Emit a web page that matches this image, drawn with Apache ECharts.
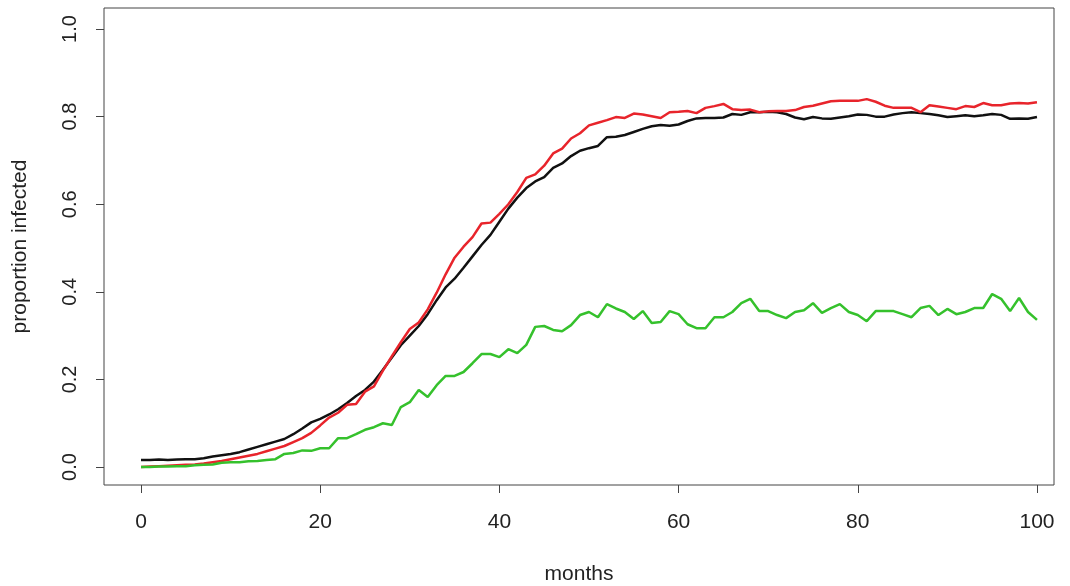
<!DOCTYPE html>
<html>
<head>
<meta charset="utf-8">
<script src="https://cdn.jsdelivr.net/npm/echarts@6/dist/echarts.min.js"></script>
<style>
    html, body { margin: 0; padding: 0; background: #fff; }
    #chart { width: 1070px; height: 586px; }
</style>
</head>
<body>
<div id="chart"></div>
<script>
    // months 0..100
    const months = Array.from({ length: 101 }, (_, i) => i);

    const xTicks = [0, 20, 40, 60, 80, 100];
    const yTicks = [0, 0.2, 0.4, 0.6, 0.8, 1.0];

    // black line
    const blackVals = [
        0.016, 0.016, 0.017, 0.016, 0.017, 0.018, 0.018, 0.020, 0.024, 0.027,
        0.030, 0.034, 0.040, 0.046, 0.052, 0.058, 0.064, 0.075, 0.088, 0.102,
        0.110, 0.120, 0.132, 0.146, 0.162, 0.176, 0.195, 0.222, 0.250, 0.278,
        0.300, 0.322, 0.349, 0.381, 0.410, 0.430, 0.455, 0.481, 0.507, 0.530,
        0.560, 0.590, 0.615, 0.637, 0.652, 0.662, 0.683, 0.693, 0.710, 0.722,
        0.728, 0.733, 0.753, 0.754, 0.758, 0.765, 0.772, 0.778, 0.781, 0.779,
        0.782, 0.790, 0.796, 0.797, 0.797, 0.798, 0.806, 0.804, 0.810, 0.810,
        0.811, 0.810, 0.806, 0.798, 0.794, 0.799, 0.796, 0.795, 0.798, 0.801,
        0.805, 0.804, 0.800, 0.800, 0.805, 0.808, 0.810, 0.808, 0.806, 0.803,
        0.799, 0.801, 0.803, 0.801, 0.803, 0.806, 0.804, 0.795, 0.796, 0.795,
        0.799
    ];

    // red line
    const redVals = [
        0.000, 0.001, 0.002, 0.003, 0.004, 0.005, 0.006, 0.008, 0.011, 0.014,
        0.018, 0.022, 0.026, 0.030, 0.036, 0.042, 0.048, 0.057, 0.066, 0.078,
        0.095, 0.113, 0.124, 0.142, 0.144, 0.172, 0.184, 0.220, 0.253, 0.285,
        0.315, 0.330, 0.360, 0.398, 0.440, 0.478, 0.503, 0.525, 0.556, 0.558,
        0.578, 0.600, 0.628, 0.660, 0.668, 0.688, 0.716, 0.727, 0.750, 0.762,
        0.780, 0.786, 0.792, 0.799, 0.797, 0.807, 0.805, 0.801, 0.797, 0.810,
        0.811, 0.813, 0.808, 0.820, 0.824, 0.829, 0.817, 0.815, 0.816, 0.810,
        0.812, 0.813, 0.813, 0.815, 0.822, 0.825, 0.830, 0.835, 0.836, 0.836,
        0.836, 0.840, 0.834, 0.825, 0.820, 0.820, 0.820, 0.810, 0.826, 0.823,
        0.820, 0.817, 0.824, 0.822, 0.831, 0.826, 0.826, 0.830, 0.831, 0.830,
        0.833
    ];

    // green line
    const greenVals = [
        0.000, 0.000, 0.001, 0.001, 0.002, 0.002, 0.004, 0.005, 0.006, 0.010,
        0.011, 0.011, 0.013, 0.014, 0.016, 0.018, 0.030, 0.032, 0.038, 0.037,
        0.043, 0.043, 0.066, 0.066, 0.075, 0.085, 0.091, 0.100, 0.096, 0.137,
        0.148, 0.176, 0.160, 0.187, 0.208, 0.208, 0.217, 0.237, 0.258, 0.258,
        0.251, 0.269, 0.260, 0.279, 0.320, 0.322, 0.313, 0.310, 0.324, 0.347,
        0.354, 0.342, 0.372, 0.362, 0.354, 0.338, 0.356, 0.329, 0.331, 0.356,
        0.349, 0.326, 0.317, 0.317, 0.342, 0.342, 0.354, 0.374, 0.384, 0.356,
        0.356, 0.347, 0.340, 0.354, 0.358, 0.374, 0.352, 0.363, 0.372, 0.354,
        0.347, 0.333, 0.356, 0.356, 0.356, 0.349, 0.342, 0.363, 0.368, 0.347,
        0.361, 0.349, 0.354, 0.363, 0.363, 0.395, 0.384, 0.356, 0.386, 0.354,
        0.336
    ];

    const chart = echarts.init(document.getElementById('chart'));

    const fontFam = '"Liberation Sans", Arial, Helvetica, sans-serif';

    function makeLine(vals, color) {
        return {
            type: 'line',
            data: months.map((m, i) => [m, vals[i]]),
            showSymbol: false,
            lineStyle: { color: color, width: 2.5 },
            itemStyle: { color: color },
            animation: false
        };
    }

    const option = {
        backgroundColor: '#fff',
        animation: false,
        grid: {
            left: 104,
            right: 16,
            top: 8,
            bottom: 101,
            outerBoundsMode: 'none',
            show: true,
            borderColor: '#444',
            borderWidth: 1
        },
        xAxis: {
            type: 'value',
            min: -4.13,
            max: 101.9,
            name: 'months',
            nameLocation: 'middle',
            nameGap: 79,
            nameTextStyle: { fontSize: 21, color: '#222', fontFamily: fontFam },
            axisLine: { show: false, onZero: false },
            splitLine: { show: false },
            axisTick: {
                show: true,
                inside: false,
                customValues: xTicks,
                length: 8,
                lineStyle: { color: '#444' }
            },
            axisLabel: {
                customValues: xTicks,
                margin: 27,
                fontSize: 21,
                color: '#222',
                fontFamily: fontFam
            }
        },
        yAxis: {
            type: 'value',
            min: -0.041,
            max: 1.048,
            name: 'proportion infected',
            nameLocation: 'middle',
            nameGap: 73,
            nameTextStyle: { fontSize: 21, color: '#222', fontFamily: fontFam },
            axisLine: { show: false, onZero: false },
            splitLine: { show: false },
            axisTick: {
                show: true,
                inside: false,
                customValues: yTicks,
                length: 8,
                lineStyle: { color: '#444' }
            },
            axisLabel: {
                customValues: yTicks,
                rotate: 90,
                margin: 24,
                fontSize: 20,
                color: '#222',
                fontFamily: fontFam,
                formatter: v => v.toFixed(1)
            }
        },
        series: [
            makeLine(blackVals, '#111111'),
            makeLine(redVals, '#e8242b'),
            makeLine(greenVals, '#35c12c')
        ]
    };

    chart.setOption(option);
</script>
</body>
</html>
